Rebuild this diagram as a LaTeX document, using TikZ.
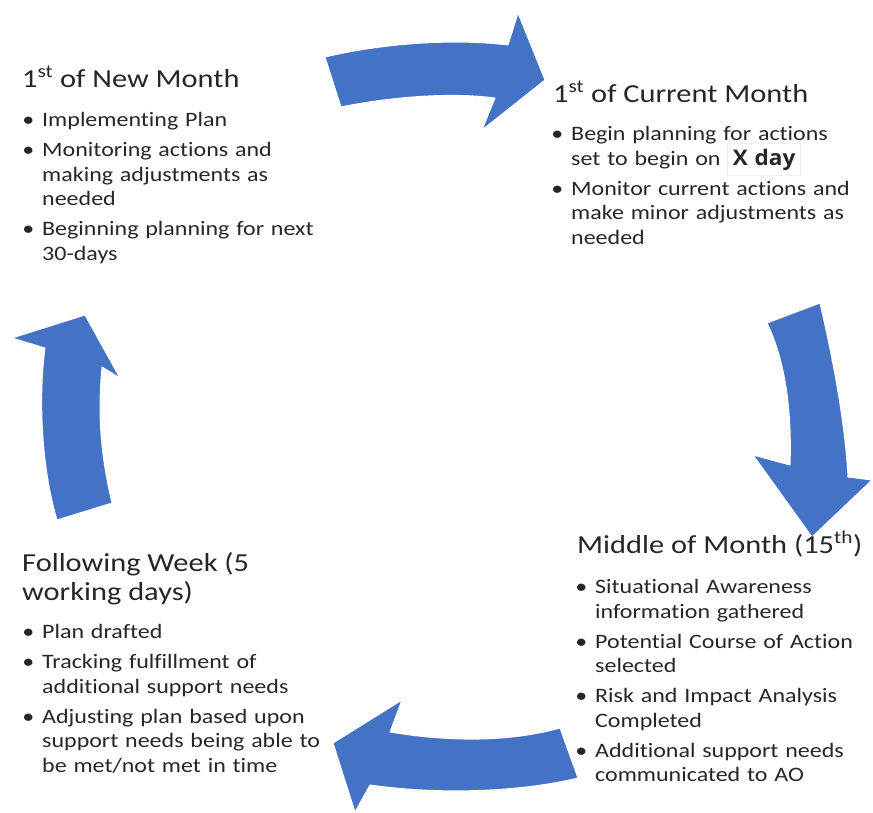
\documentclass[tikz,border=0pt]{standalone}
\usepackage{fontspec}
\setmainfont{Carlito}[FakeStretch=1.17, Ligatures=NoCommon]
\newfontfamily\xdayfont{Open Sans}[FakeStretch=1.05]
\usepackage{enumitem}

\definecolor{azul}{HTML}{4472C4}
\definecolor{texto}{HTML}{262626}

\tikzset{
  titulo/.style={anchor=base west, inner sep=0pt, text=texto, font=\fontsize{26}{28.5}\selectfont},
  lista/.style={anchor=north west, inner sep=0pt, text width=330pt, text=texto, font=\fontsize{20.5}{24.5}\selectfont},
  flecha/.style={fill=azul, draw=white, line width=1pt, line join=round}
}

\newcommand{\puntos}[1]{%
  \begin{itemize}[label=\textbullet, leftmargin=16pt, labelsep=8pt, itemsep=5.5pt, parsep=0pt, topsep=0pt, partopsep=0pt]
  #1
  \end{itemize}}

\begin{document}
\begin{tikzpicture}[x=1pt, y=-1pt]
	\useasboundingbox (0,0) rectangle (873,812);

	% Flechas del ciclo
	\fill[flecha] (325,57) .. controls (380,44) and (450,38) .. (508,45)
	    -- (518,13) -- (545,80) -- (482,130) -- (495,98)
	    .. controls (450,92) and (390,97) .. (341,107) -- cycle;
	\fill[flecha] (820,303) .. controls (832,355) and (845,420) .. (848,477)
	    -- (872,480) -- (812,537) -- (753,455) -- (790,465)
	    .. controls (792,410) and (785,360) .. (767,323) -- cycle;
	\fill[flecha] (578,778) .. controls (520,792) and (440,795) .. (370,785)
	    -- (355,812) -- (333,743) -- (402,700) -- (390,732)
	    .. controls (450,742) and (510,742) .. (560,728) -- cycle;
	\fill[flecha] (57,520) .. controls (42,470) and (38,400) .. (45,348)
	    -- (12,338) -- (85,315) -- (120,378) -- (102,367)
	    .. controls (97,420) and (102,460) .. (112,503) -- cycle;

	% Titulos
	\node[titulo] (nuevo) at (22,87) {1\textsuperscript{st} of New Month};
	\node[titulo] (actual) at (553,102) {1\textsuperscript{st} of Current Month};
	\node[titulo] (medio) at (577,553) {Middle of Month (15\textsuperscript{th})};
	\node[titulo, align=left] (semana) at (22,600) {Following Week (5\\working days)};

	% Listas
	\node[lista] (nuevo-l) at (26,102) {\puntos{
	    \item Implementing Plan
	    \item Monitoring actions and\\making adjustments as\\needed
	    \item Beginning planning for next\\30-days}};
	\node[lista] (actual-l) at (555,116) {\puntos{
	    \item Begin planning for actions\\set to begin on \smash{\fboxsep=5pt\fcolorbox{gray!12}{white}{\xdayfont\bfseries\fontsize{21.5}{24}\selectfont X day}}
	    \item Monitor current actions and\\make minor adjustments as\\needed}};
	\node[lista] (medio-l) at (579,569) {\puntos{
	    \item Situational Awareness\\information gathered
	    \item Potential Course of Action\\selected
	    \item Risk and Impact Analysis\\Completed
	    \item Additional support needs\\communicated to AO}};
	\node[lista] (semana-l) at (26,614) {\puntos{
	    \item Plan drafted
	    \item Tracking fulfillment of\\additional support needs
	    \item Adjusting plan based upon\\support needs being able to\\be met/not met in time}};
\end{tikzpicture}
\end{document}
